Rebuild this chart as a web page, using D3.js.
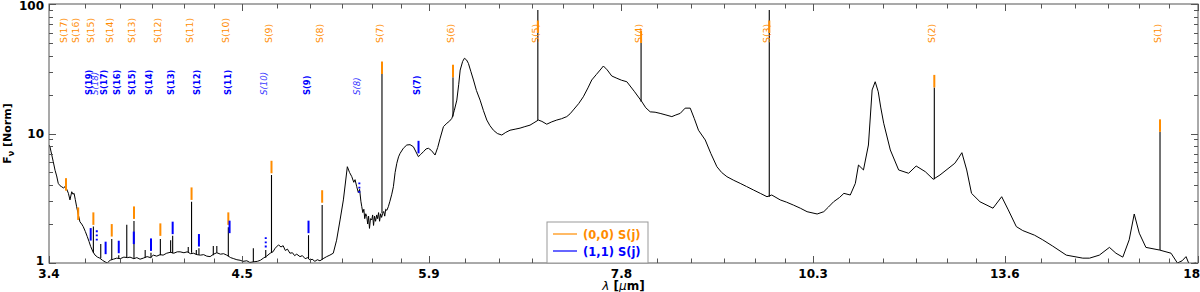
<!DOCTYPE html>
<html>
<head>
<meta charset="utf-8">
<script src="https://cdn.jsdelivr.net/npm/d3@7"></script>
<style>
  body { margin: 0; background: #fff; }
  text { font-family: "DejaVu Sans", sans-serif; }
</style>
</head>
<body>
<div id="chart"></div>
<script>
// spectrum continuum: [wavelength (um), F_nu (norm)]
const spectrum = [
  [3.400,8.15],[3.405,7.87],[3.421,6.06],[3.430,5.2],[3.438,4.70],[3.446,4.12],[3.455,3.95],[3.463,3.88],
  [3.472,3.80],[3.480,3.88],[3.489,3.70],[3.497,3.45],[3.505,3.07],[3.514,3.55],[3.520,3.40],[3.526,3.45],
  [3.532,3.1],[3.539,2.72],[3.548,2.35],[3.556,2.08],[3.565,2.0],[3.573,1.91],[3.584,1.75],[3.594,1.60],
  [3.603,1.47],[3.612,1.34],[3.624,1.22],[3.635,1.15],[3.648,1.11],[3.660,1.09],[3.674,1.05],[3.688,1.02],
  [3.700,1.00],[3.715,1.05],[3.733,1.07],[3.751,1.09],[3.770,1.08],[3.790,1.11],[3.810,1.10],[3.824,1.11],
  [3.845,1.08],[3.862,1.10],[3.880,1.07],[3.898,1.09],[3.920,1.12],[3.940,1.10],[3.955,1.15],[3.975,1.13],
  [3.995,1.16],[4.012,1.15],[4.033,1.19],[4.055,1.21],[4.075,1.19],[4.095,1.22],[4.112,1.22],[4.135,1.20],
  [4.155,1.22],[4.175,1.18],[4.192,1.19],[4.215,1.16],[4.235,1.15],[4.255,1.16],[4.274,1.13],[4.295,1.12],
  [4.317,1.17],[4.337,1.20],[4.360,1.17],[4.380,1.18],[4.400,1.15],[4.425,1.10],[4.445,1.08],[4.465,1.06],
  [4.486,1.05],[4.505,1.03],[4.530,1.04],[4.550,1.01],[4.574,1.02],[4.600,1.03],[4.620,1.05],[4.640,1.09],
  [4.662,1.13],[4.686,1.19],[4.705,1.22],[4.720,1.30],[4.743,1.38],[4.760,1.33],[4.775,1.36],[4.790,1.25],
  [4.805,1.28],[4.822,1.19],[4.840,1.20],[4.855,1.14],[4.870,1.17],[4.893,1.12],[4.910,1.14],[4.930,1.08],
  [4.948,1.10],[4.965,1.05],[4.980,1.07],[5.000,1.03],[5.018,1.06],[5.037,1.04],[5.060,1.08],[5.086,1.12],
  [5.110,1.15],[5.135,1.19],[5.160,1.50],[5.186,2.15],[5.211,3.07],[5.241,5.54],[5.258,5.0],[5.275,4.64],
  [5.290,4.2],[5.300,4.4],[5.313,3.88],[5.325,3.5],[5.335,3.7],[5.345,3.0],[5.352,2.72],[5.360,2.45],
  [5.368,2.6],[5.375,2.2],[5.383,2.4],[5.391,2.28],[5.398,2.0],[5.405,2.3],[5.412,1.85],[5.420,2.2],
  [5.430,2.15],[5.437,2.35],[5.444,1.95],[5.452,2.3],[5.460,2.1],[5.469,2.35],[5.476,2.2],[5.484,2.45],
  [5.492,2.1],[5.500,2.4],[5.508,2.25],[5.517,2.42],[5.525,2.5],[5.533,2.3],[5.541,2.6],[5.550,2.55],
  [5.562,2.72],[5.575,3.0],[5.590,3.4],[5.603,3.88],[5.617,5.0],[5.631,5.89],[5.645,6.6],[5.658,7.03],
  [5.685,7.7],[5.713,8.15],[5.740,8.2],[5.768,7.9],[5.790,7.2],[5.810,6.62],[5.830,6.9],[5.853,7.24],
  [5.875,7.6],[5.895,7.69],[5.920,7.4],[5.952,6.82],[5.975,7.8],[5.996,9.18],[6.025,11.3],[6.055,12.0],
  [6.080,12.5],[6.099,13.1],[6.120,15],[6.143,18.1],[6.160,24],[6.173,30.9],[6.195,36],[6.211,38.1],
  [6.230,37],[6.247,34.8],[6.270,30],[6.293,25.9],[6.320,21.5],[6.354,18.1],[6.385,15],[6.416,12.7],
  [6.445,11.5],[6.478,10.6],[6.515,10.0],[6.557,9.73],[6.595,10.2],[6.636,10.6],[6.685,10.8],[6.733,11.0],
  [6.780,11.3],[6.831,11.6],[6.870,12.1],[6.914,12.7],[6.950,12.4],[6.999,11.8],[7.050,12.3],[7.101,12.7],
  [7.150,13.0],[7.205,13.5],[7.240,14.2],[7.274,15.2],[7.330,17],[7.380,19.2],[7.430,22.5],[7.471,25.9],
  [7.520,28.5],[7.562,30.9],[7.598,33.2],[7.640,31],[7.691,27.8],[7.748,26.7],[7.800,25.8],[7.861,25.1],
  [7.950,21],[8.034,17.6],[8.080,15.8],[8.132,14.7],[8.190,14.6],[8.250,14.3],[8.320,13.9],[8.391,13.5],
  [8.440,13.9],[8.494,14.3],[8.555,15.7],[8.618,15.7],[8.670,13],[8.722,10.6],[8.808,8.91],[8.880,7],
  [8.958,5.54],[9.020,5.0],[9.089,4.64],[9.180,4.35],[9.266,4.12],[9.350,3.90],[9.447,3.66],[9.540,3.45],
  [9.633,3.25],[9.700,3.35],[9.820,3.07],[9.910,2.95],[10.01,2.80],[10.11,2.65],[10.21,2.49],[10.36,2.39],
  [10.46,2.49],[10.53,2.7],[10.61,2.97],[10.70,3.2],[10.77,3.45],[10.87,3.35],[10.95,4.12],[11.00,5.71],
  [11.08,5.23],[11.16,8.15],[11.22,21.7],[11.27,25.1],[11.32,21.0],[11.36,16],[11.41,12.0],[11.52,7.46],
  [11.66,5.23],[11.83,4.93],[11.96,5.61],[12.12,5.07],[12.26,4.43],[12.38,4.78],[12.65,5.89],[12.72,6.5],
  [12.78,7.11],[12.87,5.23],[12.96,3.45],[13.12,2.97],[13.37,2.65],[13.54,3.25],[13.67,2.57],[13.83,1.91],
  [13.96,1.78],[14.20,1.64],[14.37,1.51],[14.58,1.35],[14.87,1.15],[15.23,1.09],[15.38,1.09],[15.60,1.15],
  [15.83,1.32],[15.98,1.19],[16.14,1.11],[16.29,1.51],[16.41,2.39],[16.53,1.70],[16.69,1.32],[17.02,1.26],
  [17.31,1.19],[17.47,1.0],[17.59,1.04],[17.69,1.12],[17.77,0.98],[17.95,1.0]
];

// emission spikes on top of the continuum: [wavelength, base, peak]
const spikes = [
  [17.035,1.26,10.3],[12.279,4.43,22.7],[9.665,3.25,90],[8.025,17.6,50],[6.909,12.7,90],
  [6.109,13.5,27.2],[5.511,2.42,28.8],[5.053,1.06,2.80],[4.695,1.2,4.78],[4.410,1.13,1.89],
  [4.181,1.2,2.97],[3.996,1.15,1.53],[3.846,1.08,2.11],[3.724,1.06,1.53],[3.626,1.2,1.91],
  [4.954,1.08,1.64],[4.226,1.16,1.30],[4.068,1.19,1.62],[3.942,1.10,1.20],[3.762,1.08,1.15],
  [3.806,1.10,1.97],[3.665,1.09,1.40],[4.056,1.2,1.50],[4.161,1.2,1.33],[4.210,1.16,1.26],
  [4.315,1.15,1.35],[4.337,1.2,1.35],[4.573,1.02,1.30],[4.656,1.1,1.26],[3.909,1.1,1.26]
];

// H2 (0,0) S(j): [j, wavelength, marker bottom]
const s00 = [
  [1,17.035,10.3],[2,12.279,22.7],[3,9.665,59.7],[4,8.025,50],[5,6.909,59.7],[6,6.109,27.2],
  [7,5.511,28.8],[8,5.053,2.92],[9,4.695,4.93],[10,4.410,1.97],[11,4.181,3.07],[12,3.996,1.62],
  [13,3.846,2.19],[14,3.724,1.60],[15,3.626,1.97],[16,3.547,2.15],[17,3.485,3.62]
];

// H2 (1,1) S(j): [j, wavelength, marker bottom, tentative]
const s11 = [
  [7,5.811,7.03,false],[8,5.333,3.49,true],[9,4.954,1.70,false],[10,4.656,1.32,true],
  [11,4.418,1.70,false],[12,4.226,1.34,false],[13,4.068,1.67,false],[14,3.942,1.24,false],
  [15,3.845,1.40,false],[16,3.762,1.19,false],[17,3.691,1.17,false],[18,3.644,1.49,true],
  [19,3.612,1.49,false]
];

const xTicks = [3.4, 4.5, 5.9, 7.8, 10.3, 13.6, 18];
const yTicks = [1, 10, 100];

const orange = "#ff8c00", blue = "#0000ff";
const W = 1200, H = 292;
const L = 49, R = 1198, T = 4, B = 263;

const svg = d3.select("#chart").append("svg")
  .attr("width", W).attr("height", H)
  .style("background", "#fff");

const x = d3.scaleLog().domain([3.4, 18]).range([L, R]);
const y = d3.scaleLog().domain([1, 100]).range([B, T]);

svg.append("clipPath").attr("id", "plotclip")
  .append("rect").attr("x", L).attr("y", T).attr("width", R - L).attr("height", B - T);

const plot = svg.append("g").attr("clip-path", "url(#plotclip)");

// continuum
const line = d3.line().x(d => x(d[0])).y(d => y(d[1]));
plot.append("path")
  .datum(spectrum)
  .attr("d", line)
  .attr("fill", "none")
  .attr("stroke", "#000")
  .attr("stroke-width", 1)
  .attr("stroke-linejoin", "round");

// spikes
plot.selectAll(".spike").data(spikes).join("line")
  .attr("class", "spike")
  .attr("x1", d => x(d[0])).attr("x2", d => x(d[0]))
  .attr("y1", d => y(d[1])).attr("y2", d => y(d[2]))
  .attr("stroke", "#000").attr("stroke-width", 1.1);

// line markers
const mk = 12.5;
plot.selectAll(".m00").data(s00).join("line")
  .attr("class", "m00")
  .attr("x1", d => x(d[1])).attr("x2", d => x(d[1]))
  .attr("y1", d => y(d[2])).attr("y2", d => y(d[2]) - mk)
  .attr("stroke", orange).attr("stroke-width", 2);

plot.selectAll(".m11").data(s11).join("line")
  .attr("class", "m11")
  .attr("x1", d => x(d[1])).attr("x2", d => x(d[1]))
  .attr("y1", d => y(d[2])).attr("y2", d => y(d[2]) - mk)
  .attr("stroke", blue).attr("stroke-width", 2)
  .attr("stroke-dasharray", d => d[3] ? "1.8,2.4" : null);

// line labels
svg.selectAll(".l00").data(s00).join("text")
  .attr("class", "l00")
  .attr("transform", d => `translate(${x(d[1]) + 1},43) rotate(-90)`)
  .attr("font-size", 9.4)
  .attr("fill", orange)
  .text(d => `S(${d[0]})`);

svg.selectAll(".l11").data(s11).join("text")
  .attr("class", "l11")
  .attr("transform", d => `translate(${x(d[1]) + 1},95) rotate(-90)`)
  .attr("font-size", d => d[3] ? 8.6 : 8.4)
  .attr("font-weight", d => d[3] ? "normal" : "bold")
  .attr("font-style", d => d[3] ? "italic" : "normal")
  .attr("fill", d => d[3] ? "#3a3aff" : blue)
  .text(d => `S(${d[0]})`);

// frame and ticks
const axisCol = "#555";
svg.append("rect")
  .attr("x", L).attr("y", T).attr("width", R - L).attr("height", B - T)
  .attr("fill", "none").attr("stroke", axisCol).attr("stroke-width", 1);

const xMinor = [];
for (let i = 0; i < xTicks.length - 1; i++) {
  const a = xTicks[i], b = xTicks[i + 1];
  for (let k = 1; k < 6; k++) xMinor.push(a + (b - a) * k / 6);
}
const yMinor = [];
[1, 10].forEach(dec => { for (let k = 2; k < 10; k++) yMinor.push(k * dec); });

const tk = svg.append("g").attr("stroke", axisCol).attr("stroke-width", 1);
[[xTicks, 7], [xMinor, 4.5]].forEach(([vals, len]) => {
  vals.forEach(v => {
    const px = Math.round(x(v)) + 0.5;
    tk.append("line").attr("x1", px).attr("x2", px).attr("y1", B).attr("y2", B - len);
    tk.append("line").attr("x1", px).attr("x2", px).attr("y1", T).attr("y2", T + len);
  });
});
[[yTicks, 7], [yMinor, 4]].forEach(([vals, len]) => {
  vals.forEach(v => {
    const py = Math.round(y(v)) + 0.5;
    tk.append("line").attr("x1", L).attr("x2", L + len).attr("y1", py).attr("y2", py);
    tk.append("line").attr("x1", R).attr("x2", R - len).attr("y1", py).attr("y2", py);
  });
});

// tick labels
svg.selectAll(".xt").data(xTicks).join("text")
  .attr("class", "xt")
  .attr("x", (d, i) => i === xTicks.length - 1 ? W : x(d))
  .attr("y", 277.5)
  .attr("text-anchor", (d, i) => i === xTicks.length - 1 ? "end" : "middle")
  .attr("font-size", 12).attr("font-weight", "bold")
  .text(d => d);

svg.selectAll(".yt").data(yTicks).join("text")
  .attr("class", "yt")
  .attr("x", 44).attr("y", d => Math.min(Math.max(y(d) + 4, 9.5), 265))
  .attr("text-anchor", "end")
  .attr("font-size", 12).attr("font-weight", "bold")
  .text(d => d);

// axis titles
const xt = svg.append("text")
  .attr("x", (L + R) / 2).attr("y", 289.5)
  .attr("text-anchor", "middle")
  .attr("font-size", 12).attr("font-weight", "bold");
xt.append("tspan").attr("font-style", "italic").attr("font-weight", "normal").text("λ");
xt.append("tspan").text(" [");
xt.append("tspan").attr("font-style", "italic").attr("font-weight", "normal").text("μ");
xt.append("tspan").text("m]");

const yt = svg.append("text")
  .attr("transform", `translate(11,${(T + B) / 2}) rotate(-90)`)
  .attr("text-anchor", "middle")
  .attr("font-size", 11).attr("font-weight", "bold");
yt.append("tspan").text("F");
yt.append("tspan").attr("font-size", 8).attr("dy", 3).text("ν");
yt.append("tspan").attr("dy", -3).text(" [Norm]");

// legend
const lg = svg.append("g");
lg.append("rect")
  .attr("x", 547).attr("y", 222).attr("width", 101).attr("height", 41)
  .attr("fill", "#fff").attr("stroke", "#999").attr("stroke-width", 1);
[["(0,0) S(j)", orange, 234], ["(1,1) S(j)", blue, 251]].forEach(([lab, col, ly]) => {
  lg.append("line").attr("x1", 553).attr("x2", 577).attr("y1", ly).attr("y2", ly)
    .attr("stroke", col).attr("stroke-width", 1.2);
  lg.append("text").attr("x", 583).attr("y", ly + 4.5)
    .attr("font-size", 11.5).attr("font-weight", "bold").attr("fill", col).text(lab);
});
</script>
</body>
</html>
